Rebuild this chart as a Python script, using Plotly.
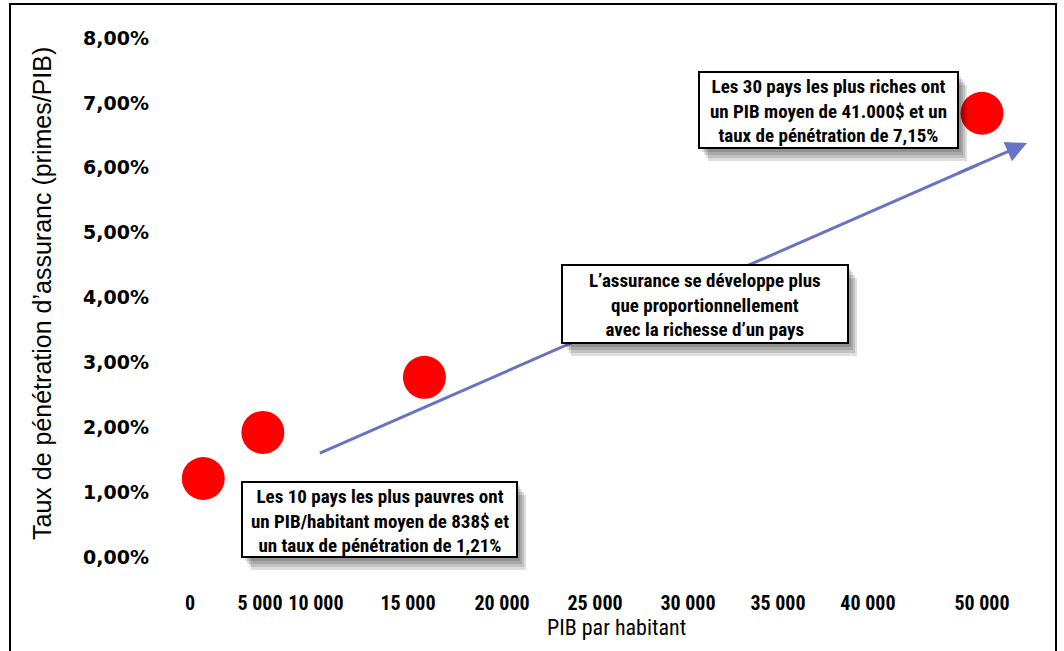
import plotly.graph_objects as go

# ---------------- data ----------------
pib = [838, 4600, 14800, 50000]                 # PIB par habitant
penetration = [0.0121, 0.0192, 0.0277, 0.0684]  # taux de pénétration

y_ticks = [0, 0.01, 0.02, 0.03, 0.04, 0.05, 0.06, 0.07, 0.08]
x_tick_positions = [0, 4420, 7950, 13760, 19700, 25570, 31440, 37120, 42800, 50000]
x_tick_labels = ["0", "5 000", "10 000", "15 000", "20 000", "25 000",
                 "30 000", "35 000", "40 000", "50 000"]

trend_start = (8200, 0.0160)
trend_end = (52840, 0.0638)

box_rich = ["Les 30 pays les plus riches ont",
            "un PIB moyen de 41.000$ et un",
            "taux de pénétration de 7,15%"]
box_poor = ["Les 10 pays les plus pauvres ont",
            "un PIB/habitant moyen de 838$ et",
            "un taux de pénétration de 1,21%"]
box_mid = ["L’assurance se développe plus",
           "que proportionnellement",
           "avec la richesse d’un pays"]

x_title = "PIB par habitant"
y_title = "Taux de pénétration d’assuranc (primes/PIB)"

# ---------------- layout geometry ----------------
W, H = 1064, 651
ML, MR, MT, MB = 160, 14, 20, 66
PW, PH = W - ML - MR, H - MT - MB
X0_PX, X_PX_PER_UNIT = 190, 15.84 / 1000      # pixel of x=0, pixels per $
Y0_PX, Y_PX_PER_UNIT = 557, 64.875 * 100      # pixel of y=0, pixels per unit


def px(x):
    return (x - ML) / PW


def py(y):
    return (H - MB - y) / PH


NARROW = "Liberation Sans Narrow, Arial Narrow, Roboto Condensed, sans-serif"

fig = go.Figure()
fig.add_trace(go.Scatter(
    x=pib, y=penetration, mode="markers",
    marker=dict(size=43, color="#ff0000", line=dict(width=0)),
    cliponaxis=False, showlegend=False, hoverinfo="x+y"))

shapes = []
annotations = []
ARROW_COLOR = "#6a73c1"

# trend line (shape, drawn first so that the boxes cover it)
shapes.append(dict(type="line", xref="x", yref="y",
                   x0=trend_start[0], y0=trend_start[1],
                   x1=trend_start[0] + 0.93 * (trend_end[0] - trend_start[0]),
                   y1=trend_start[1] + 0.93 * (trend_end[1] - trend_start[1]),
                   line=dict(color=ARROW_COLOR, width=3), layer="above"))
# arrow head
annotations.append(dict(
    x=trend_end[0], y=trend_end[1],
    ax=trend_start[0] + 0.9 * (trend_end[0] - trend_start[0]),
    ay=trend_start[1] + 0.9 * (trend_end[1] - trend_start[1]),
    xref="x", yref="y", axref="x", ayref="y", text="",
    showarrow=True, arrowhead=2, arrowsize=1.4, arrowwidth=3,
    arrowcolor=ARROW_COLOR))

boxes = [
    ((699, 958, 72, 148), box_rich),
    ((242, 517, 482, 557), box_poor),
    ((562, 848, 265, 343), box_mid),
]
for (x0, x1, y0, y1), lines in boxes:
    for dx, dy in [(3, 4), (5, 7), (7, 10), (9, 13)]:
        shapes.append(dict(type="rect", xref="paper", yref="paper",
                           x0=px(x0 + dx), x1=px(x1 + dx), y0=py(y1 + dy), y1=py(y0 + dy),
                           fillcolor="rgba(0,0,0,0.13)", line=dict(width=0), layer="above"))
    shapes.append(dict(type="rect", xref="paper", yref="paper",
                       x0=px(x0), x1=px(x1), y0=py(y1), y1=py(y0),
                       fillcolor="white", line=dict(color="black", width=2), layer="above"))
    annotations.append(dict(
        x=px((x0 + x1) / 2), y=py((y0 + y1) / 2 + 1), xref="paper", yref="paper",
        text="<br>".join(lines), showarrow=False, align="center",
        xanchor="center", yanchor="middle",
        font=dict(family=NARROW, size=19, color="black", weight="bold")))

# axis titles
annotations.append(dict(x=px(616), y=py(627), xref="paper", yref="paper",
                        text=x_title, showarrow=False, xanchor="center", yanchor="middle",
                        font=dict(family=NARROW, size=22, color="black")))
annotations.append(dict(x=px(42), y=py(294), xref="paper", yref="paper",
                        text=y_title, showarrow=False, textangle=-90,
                        xanchor="center", yanchor="middle",
                        font=dict(family="Liberation Sans, Arial, sans-serif", size=25, color="black")))

# outer frame
shapes.append(dict(type="rect", xref="paper", yref="paper",
                   x0=px(10), x1=px(1056), y0=py(662), y1=py(4),
                   line=dict(color="black", width=2), fillcolor="rgba(0,0,0,0)", layer="above"))

fig.update_layout(
    width=W, height=H, margin=dict(l=ML, r=MR, t=MT, b=MB),
    paper_bgcolor="white", plot_bgcolor="white",
    separators=", ",
    showlegend=False,
    xaxis=dict(range=[(ML - X0_PX) / X_PX_PER_UNIT, (W - MR - X0_PX) / X_PX_PER_UNIT],
               tickvals=x_tick_positions, ticktext=x_tick_labels,
               showgrid=False, zeroline=False, showline=False, ticks="",
               ticklabelstandoff=4,
               tickfont=dict(family=NARROW, size=20, color="black", weight="bold")),
    yaxis=dict(range=[(Y0_PX - (H - MB)) / Y_PX_PER_UNIT, (Y0_PX - MT) / Y_PX_PER_UNIT],
               tickvals=y_ticks, tickformat=".2%",
               showgrid=False, zeroline=False, showline=False, ticks="",
               ticklabelstandoff=10,
               tickfont=dict(family="DejaVu Sans, Verdana, sans-serif", size=19,
                             color="black", weight="bold")),
    annotations=annotations, shapes=shapes,
)

fig.write_html("out.html")
